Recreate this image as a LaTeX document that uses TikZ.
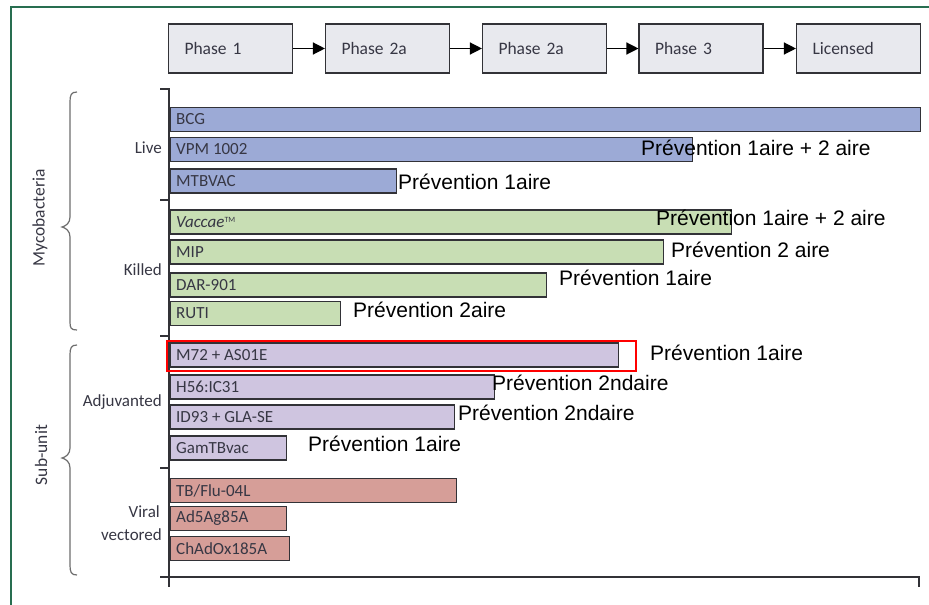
\documentclass[tikz,border=0pt]{standalone}
\usepackage{fontspec}
\setmainfont{Carlito}
\newfontfamily\arialf{Liberation Sans}
\usetikzlibrary{arrows.meta}
\definecolor{frameg}{RGB}{40,110,80}
\definecolor{boxfill}{RGB}{232,233,238}
\definecolor{edge}{RGB}{50,50,55}
\definecolor{txt}{RGB}{55,55,68}
\definecolor{bracec}{RGB}{110,110,110}
\definecolor{cblue}{RGB}{156,170,214}
\definecolor{cgreen}{RGB}{200,222,180}
\definecolor{cpurple}{RGB}{207,197,224}
\definecolor{cred}{RGB}{214,158,152}
\begin{document}
\begin{tikzpicture}[x=1pt,y=-1pt,
  phasebox/.style={draw=edge, line width=1.1pt, fill=boxfill, minimum height=49pt,
    text width=92pt, inner xsep=16pt, align=left, font=\fontsize{17.5}{20}\selectfont, text=txt},
  arr/.style={draw=black, line width=1.3pt, -{Triangle[length=12pt,width=12pt]}},
  bar/.style={draw=edge, line width=1.1pt, minimum height=24pt, inner sep=0pt, anchor=west},
  blabel/.style={anchor=west, inner sep=0pt, font=\fontsize{17}{20}\selectfont, text=txt},
  grp/.style={anchor=east, inner sep=0pt, font=\fontsize{17}{20}\selectfont, text=txt},
  note/.style={anchor=west, inner sep=0pt, font=\arialf\fontsize{21}{24}\selectfont, text=black},
  axisl/.style={draw=edge, line width=1.2pt},
  bracel/.style={draw=bracec, line width=1.2pt},
  redbox/.style={draw=red, line width=1.5pt}]
\useasboundingbox (0,0) rectangle (929,605);
\fill[white] (0,0) rectangle (929,605);
% frame
\draw[frameg, line width=1.5pt] (11,605) -- (11,7) -- (929,7);

% phases
\node[phasebox] (p1) at (230.5,48.5) {Phase 1};
\node[phasebox] (p2) at (387.5,48.5) {Phase 2a};
\node[phasebox] (p3) at (544.5,48.5) {Phase 2a};
\node[phasebox] (p4) at (701,48.5) {Phase 3};
\node[phasebox] (p5) at (858.5,48.5) {Licensed};
\draw[arr] (p1) -- (p2);
\draw[arr] (p2) -- (p3);
\draw[arr] (p3) -- (p4);
\draw[arr] (p4) -- (p5);

% axes
\draw[axisl] (160,89) -- (169,89) -- (169,587);
\draw[axisl] (160,200) -- (169,200);
\draw[axisl] (160,336) -- (169,336);
\draw[axisl] (160,468) -- (169,468);
\draw[axisl] (160,577) -- (919,577) -- (919,587);

% bars
\node[bar, fill=cblue, minimum width=750pt] (bcg) at (170,119.5) {};
\node[bar, fill=cblue, minimum width=522pt] (vpm) at (170,149.5) {};
\node[bar, fill=cblue, minimum width=226pt] (mtb) at (170,181) {};
\node[bar, fill=cgreen, minimum width=561pt] (vac) at (170,222) {};
\node[bar, fill=cgreen, minimum width=493pt] (mip) at (170,252) {};
\node[bar, fill=cgreen, minimum width=376pt] (dar) at (170,285) {};
\node[bar, fill=cgreen, minimum width=170pt] (ruti) at (170,313.5) {};
\node[bar, fill=cpurple, minimum width=448pt] (m72) at (170,355) {};
\node[bar, fill=cpurple, minimum width=324pt] (h56) at (170,387) {};
\node[bar, fill=cpurple, minimum width=284pt] (id93) at (170,417) {};
\node[bar, fill=cpurple, minimum width=116pt] (gam) at (170,448) {};
\node[bar, fill=cred, minimum width=286pt] (tbf) at (170,490.5) {};
\node[bar, fill=cred, minimum width=116pt] (ad5) at (170,518.5) {};
\node[bar, fill=cred, minimum width=119pt] (chad) at (170,548.5) {};

\node[blabel] (lbcg) at ([xshift=6pt]bcg.west) {BCG};
\node[blabel] (lvpm) at ([xshift=6pt]vpm.west) {VPM 1002};
\node[blabel] (lmtb) at ([xshift=6pt]mtb.west) {MTBVAC};
\node[blabel] (lvac) at ([xshift=6pt]vac.west) {\itshape Vaccae\raisebox{5pt}{\upshape\fontsize{8}{9}\selectfont TM}};
\node[blabel] (lmip) at ([xshift=6pt]mip.west) {MIP};
\node[blabel] (ldar) at ([xshift=6pt]dar.west) {DAR-901};
\node[blabel] (lruti) at ([xshift=6pt]ruti.west) {RUTI};
\node[blabel] (lm72) at ([xshift=6pt]m72.west) {M72 + AS01E};
\node[blabel] (lh56) at ([xshift=6pt]h56.west) {H56:IC31};
\node[blabel] (lid93) at ([xshift=6pt]id93.west) {ID93 + GLA-SE};
\node[blabel] (lgam) at ([xshift=6pt]gam.west) {GamTBvac};
\node[blabel] (ltbf) at ([xshift=6pt]tbf.west) {TB/Flu-04L};
\node[blabel] (lad5) at ([xshift=6pt]ad5.west) {Ad5Ag85A};
\node[blabel] (lchad) at ([xshift=6pt]chad.west) {ChAdOx185A};

% red highlight
\coordinate (rA) at (167,341);
\coordinate (rB) at (636,371);
\draw[redbox] (rA) rectangle (rB);

% group labels
\node[grp] (live) at (162,148) {Live};
\node[grp] (killed) at (162,270) {Killed};
\node[grp] (adj) at (162,402) {Adjuvanted};
\node[grp] (viral) at (160,512) {Viral};
\node[grp] (vect) at (162,535) {vectored};

% braces
\draw[bracel] (77,92) .. controls (71,92) and (70,95) .. (70,102) -- (70,217)
  .. controls (70,223) and (66,226) .. (62,227) .. controls (66,228) and (70,231) .. (70,237)
  -- (70,322) .. controls (70,328) and (71,330) .. (77,330);
\draw[bracel] (77,345) .. controls (71,345) and (70,348) .. (70,355) -- (70,448)
  .. controls (70,454) and (66,457) .. (62,458) .. controls (66,459) and (70,462) .. (70,468)
  -- (70,565) .. controls (70,572) and (71,575) .. (77,575);
\node[rotate=90, inner sep=0pt, font=\fontsize{17.5}{20}\selectfont, text=txt] (myco) at (40,218) {Mycobacteria};
\node[rotate=90, inner sep=0pt, font=\fontsize{17.5}{20}\selectfont, text=txt] (sub) at (41,455) {Sub-unit};

% notes
\node[note] (n1) at (641,148) {Prévention 1aire + 2 aire};
\node[note] (n2) at (398,182) {Prévention 1aire};
\node[note] (n3) at (656,218) {Prévention 1aire + 2 aire};
\node[note] (n4) at (671,250) {Prévention 2 aire};
\node[note] (n5) at (559,278) {Prévention 1aire};
\node[note] (n6) at (353,310) {Prévention 2aire};
\node[note] (n7) at (650,353) {Prévention 1aire};
\node[note] (n8) at (492,383) {Prévention 2ndaire};
\node[note] (n9) at (458,413) {Prévention 2ndaire};
\node[note] (n10) at (308,444) {Prévention 1aire};
\end{tikzpicture}
\end{document}
